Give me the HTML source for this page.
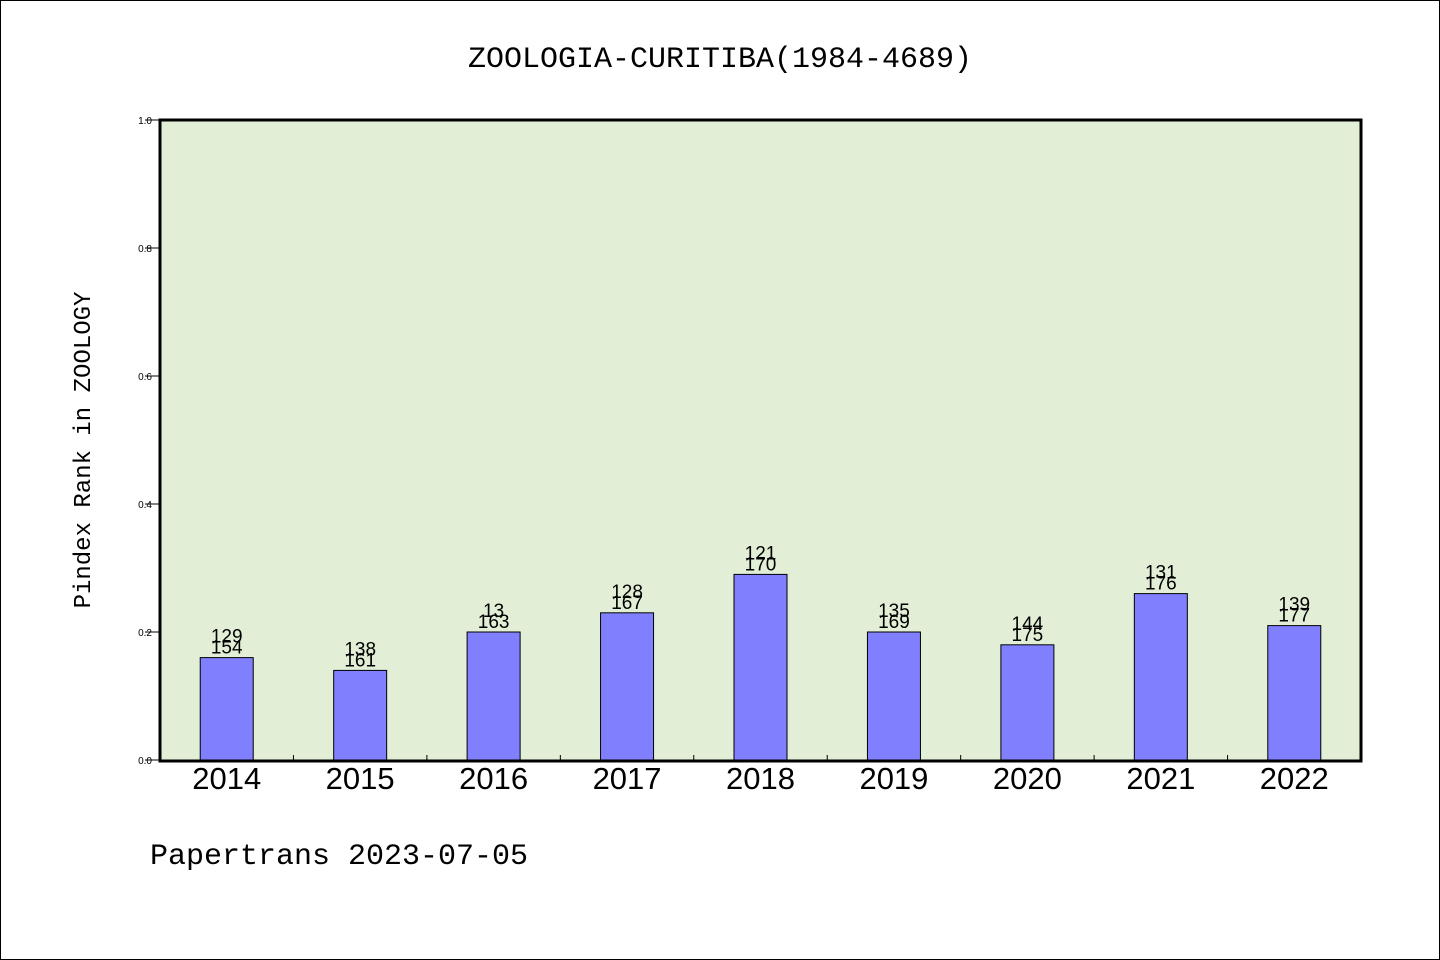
<!DOCTYPE html>
<html><head><meta charset="utf-8"><style>
body{margin:0;background:#fff;}
svg{display:block;}
</style></head><body>
<svg width="1440" height="960" xmlns="http://www.w3.org/2000/svg">
<rect x="0.5" y="0.5" width="1439" height="959" fill="#fff" stroke="#000"/>
<text x="720" y="67" text-anchor="middle" font-family="'WenQuanYi Zen Hei','Liberation Mono',monospace" font-size="30">ZOOLOGIA-CURITIBA(1984-4689)</text>
<rect x="160" y="120" width="1201" height="641" fill="#e2efd6"/>
<g id="marks"></g>
<rect x="160" y="120" width="1201" height="641" fill="none" stroke="#000" stroke-width="3"/>
<text transform="translate(90,450) rotate(-90)" text-anchor="middle" font-family="'WenQuanYi Zen Hei','Liberation Mono',monospace" font-size="24">Pindex Rank in ZOOLOGY</text>
<text x="150" y="864" font-family="'WenQuanYi Zen Hei','Liberation Mono',monospace" font-size="30">Papertrans 2023-07-05</text>
</svg>
<script>
const categories=['2014','2015','2016','2017','2018','2019','2020','2021','2022'];
const values=[0.16,0.14,0.2,0.23,0.29,0.2,0.18,0.26,0.21];
const topLabels=['129','138','13','128','121','135','144','131','139'];
const bottomLabels=['154','161','163','167','170','169','175','176','177'];
const yTicks=[0,0.2,0.4,0.6,0.8,1.0];
const NS='http://www.w3.org/2000/svg';
const g=document.getElementById('marks');
const x0=160,x1=1361,y0=760,y1=120;
const band=(x1-x0)/categories.length;
function xc(i){return x0+band*(i+0.5);}
function y(v){return y0-(y0-y1)*v;}
function mk(tag,attrs,txt){const e=document.createElementNS(NS,tag);for(const k in attrs)e.setAttribute(k,attrs[k]);if(txt!=null)e.textContent=txt;g.appendChild(e);return e;}
yTicks.forEach(t=>{
 const l=mk('line',{x1:145,x2:160,y1:y(t),y2:y(t),stroke:'#000'});
 
 
 const tx=mk('text',{x:152,y:y(t)+4,'text-anchor':'end','font-family':'Liberation Sans,sans-serif','font-size':'10'},t.toFixed(1));
 
 
});
categories.forEach((c,i)=>{
 if(i>0){const l=mk('line',{x1:x0+band*i,x2:x0+band*i,y1:755,y2:760,stroke:'#000'});
 
 }
 const b=mk('rect',{x:xc(i)-26.5,y:y(values[i]),width:53,height:y0-y(values[i]),fill:'#8080ff',stroke:'#000','stroke-width':1});
 
 
 const t1=mk('text',{x:xc(i),y:y(values[i])-15,'text-anchor':'middle','font-family':'Liberation Sans,sans-serif','font-size':'19'},topLabels[i]);
 
 
 const t2=mk('text',{x:xc(i),y:y(values[i])-4,'text-anchor':'middle','font-family':'Liberation Sans,sans-serif','font-size':'19'},bottomLabels[i]);
 
 
 const xl=mk('text',{x:xc(i),y:789,'text-anchor':'middle','font-family':'Liberation Sans,sans-serif','font-size':'31'},c);
 
 
});
</script>
</body></html>
